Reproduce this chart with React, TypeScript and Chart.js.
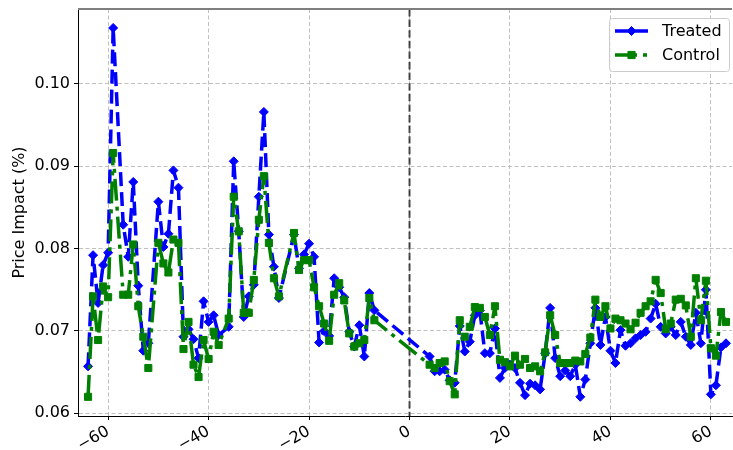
import React, { useEffect, useRef } from 'react';
import { Chart, registerables } from 'chart.js';

Chart.register(...registerables);

const xDays = [
  -64, -63, -62, -61, -60, -59, -57, -56, -55, -54, -53, -52, -50, -49, -48, -47, -46, -45, -44, -43,
  -42, -41, -40, -39, -38, -36, -35, -34, -33, -32, -31, -30, -29, -28, -27, -26, -23, -22, -21, -20,
  -19, -18, -17, -16, -15, -14, -13, -12, -11, -10, -9, -8, -7,
  4, 5, 6, 7, 8, 9, 10, 11, 12, 13, 14, 15, 16, 17, 18, 19, 20, 21, 22, 23, 24, 25, 26, 27, 28, 29,
  30, 31, 32, 33, 34, 35, 36, 37, 38, 39, 40, 41, 42, 43, 44, 45, 46, 47, 48, 49, 50, 51, 52, 53, 54,
  55, 56, 57, 58, 59, 60, 61, 62, 63,
];

const treated = [
  0.0657, 0.0792, 0.0734, 0.0780, 0.0795, 0.1068, 0.0829, 0.0790, 0.0881, 0.0755, 0.0676, 0.0685, 0.0857,
  0.0802, 0.0818, 0.0895, 0.0874, 0.0693, 0.0702, 0.0690, 0.0667, 0.0736, 0.0711, 0.0719, 0.0695, 0.0705,
  0.0906, 0.0821, 0.0717, 0.0742, 0.0756, 0.0863, 0.0966, 0.0817, 0.0778, 0.0740, 0.0817, 0.0776, 0.0793,
  0.0806, 0.0790, 0.0686, 0.0700, 0.0694, 0.0764, 0.0753, 0.0741, 0.0699, 0.0681, 0.0707, 0.0669, 0.0746,
  0.0725,
  0.0669, 0.0651, 0.0651, 0.0653, 0.0640, 0.0637, 0.0706, 0.0675, 0.0687, 0.0719, 0.0725, 0.0673, 0.0673,
  0.0703, 0.0643, 0.0655, 0.0659, 0.0655, 0.0637, 0.0622, 0.0636, 0.0634, 0.0629, 0.0673, 0.0728, 0.0667,
  0.0645, 0.0652, 0.0645, 0.0659, 0.0620, 0.0641, 0.0685, 0.0728, 0.0683, 0.0717, 0.0676, 0.0661, 0.0701,
  0.0682, 0.0685, 0.0691, 0.0695, 0.0699, 0.0715, 0.0733, 0.0705, 0.0697, 0.0705, 0.0695, 0.0711, 0.0693,
  0.0683, 0.0722, 0.0685, 0.0750, 0.0623, 0.0634, 0.0680, 0.0685,
];

const control = [
  0.0620, 0.0742, 0.0689, 0.0754, 0.0741, 0.0916, 0.0744, 0.0744, 0.0805, 0.0730, 0.0693, 0.0655, 0.0807,
  0.0782, 0.0771, 0.0811, 0.0807, 0.0678, 0.0711, 0.0659, 0.0644, 0.0689, 0.0666, 0.0699, 0.0683, 0.0715,
  0.0863, 0.0821, 0.0722, 0.0722, 0.0762, 0.0835, 0.0888, 0.0807, 0.0764, 0.0742, 0.0819, 0.0774, 0.0786,
  0.0786, 0.0753, 0.0730, 0.0709, 0.0688, 0.0744, 0.0758, 0.0737, 0.0697, 0.0681, 0.0685, 0.0689, 0.0740,
  0.0713,
  0.0659, 0.0655, 0.0661, 0.0663, 0.0639, 0.0623, 0.0713, 0.0693, 0.0705, 0.0729, 0.0728, 0.0717, 0.0695,
  0.0730, 0.0665, 0.0662, 0.0657, 0.0670, 0.0659, 0.0666, 0.0655, 0.0657, 0.0651, 0.0674, 0.0719, 0.0695,
  0.0661, 0.0661, 0.0661, 0.0664, 0.0663, 0.0672, 0.0692, 0.0738, 0.0717, 0.0730, 0.0703, 0.0715, 0.0713,
  0.0709, 0.0702, 0.0710, 0.0722, 0.0730, 0.0736, 0.0762, 0.0746, 0.0702, 0.0709, 0.0738, 0.0739, 0.0731,
  0.0693, 0.0764, 0.0713, 0.0761, 0.0679, 0.0670, 0.0723, 0.0711,
];

const xTicks = [-60, -40, -20, 0, 20, 40, 60];
const yTicks = [0.06, 0.07, 0.08, 0.09, 0.1];
const seriesNames = ['Treated', 'Control'];
const yTitle = 'Price Impact (%)';
const eventDay = 0;

const FONT = "'DejaVu Sans', 'Liberation Sans', sans-serif";
const BLUE = '#0000ff';
const GREEN = '#008000';
const DASH_T = [14, 6];
const DASH_C = [22, 6, 4, 6];

function drawMarker(ctx: CanvasRenderingContext2D, kind: string, x: number, y: number, color: string) {
  ctx.save();
  ctx.setLineDash([]);
  ctx.fillStyle = color;
  ctx.strokeStyle = color;
  ctx.lineWidth = 1;
  ctx.beginPath();
  if (kind === 'diamond') {
    const r = 4.5;
    ctx.moveTo(x, y - r);
    ctx.lineTo(x + r, y);
    ctx.lineTo(x, y + r);
    ctx.lineTo(x - r, y);
    ctx.closePath();
  } else {
    const s = 3.6;
    ctx.rect(x - s, y - s, 2 * s, 2 * s);
  }
  ctx.fill();
  ctx.stroke();
  ctx.restore();
}

const overlayPlugin = {
  id: 'overlay',
  beforeDatasetsDraw(chart: any) {
    const { ctx, chartArea, scales } = chart;
    const px = scales.x.getPixelForValue(eventDay);
    ctx.save();
    ctx.strokeStyle = 'rgba(0,0,0,0.7)';
    ctx.lineWidth = 2;
    ctx.setLineDash([7.4, 3.2]);
    ctx.beginPath();
    ctx.moveTo(px, chartArea.top);
    ctx.lineTo(px, chartArea.bottom);
    ctx.stroke();
    ctx.restore();
  },
  afterDraw(chart: any) {
    const { ctx, chartArea } = chart;
    ctx.save();
    ctx.strokeStyle = '#7f7f7f';
    ctx.lineWidth = 2;
    ctx.beginPath();
    ctx.moveTo(chartArea.left, chartArea.top);
    ctx.lineTo(chartArea.right, chartArea.top);
    ctx.stroke();

    const bx = 609.5, by = 18.5, bw = 120, bh = 53, r = 3;
    ctx.beginPath();
    ctx.moveTo(bx + r, by);
    ctx.lineTo(bx + bw - r, by);
    ctx.quadraticCurveTo(bx + bw, by, bx + bw, by + r);
    ctx.lineTo(bx + bw, by + bh - r);
    ctx.quadraticCurveTo(bx + bw, by + bh, bx + bw - r, by + bh);
    ctx.lineTo(bx + r, by + bh);
    ctx.quadraticCurveTo(bx, by + bh, bx, by + bh - r);
    ctx.lineTo(bx, by + r);
    ctx.quadraticCurveTo(bx, by, bx + r, by);
    ctx.closePath();
    ctx.fillStyle = 'rgba(255,255,255,0.8)';
    ctx.fill();
    ctx.strokeStyle = '#cccccc';
    ctx.lineWidth = 1;
    ctx.stroke();

    const rows = [
      { name: seriesNames[0], color: BLUE, dash: DASH_T, marker: 'diamond', y: 31 },
      { name: seriesNames[1], color: GREEN, dash: DASH_C, marker: 'square', y: 55 },
    ];
    rows.forEach((row) => {
      ctx.save();
      ctx.strokeStyle = row.color;
      ctx.lineWidth = 3.5;
      ctx.setLineDash(row.dash);
      ctx.beginPath();
      ctx.moveTo(615, row.y);
      ctx.lineTo(648, row.y);
      ctx.stroke();
      ctx.restore();
      drawMarker(ctx, row.marker, 631.5, row.y, row.color);
      ctx.fillStyle = '#000';
      ctx.font = `16px ${FONT}`;
      ctx.textBaseline = 'middle';
      ctx.textAlign = 'left';
      ctx.fillText(row.name, 662, row.y + 1);
    });
    ctx.restore();
  },
};

export default function App() {
  const canvasRef = useRef<HTMLCanvasElement | null>(null);

  useEffect(() => {
    document.body.style.margin = '0';
    const canvas = canvasRef.current;
    if (!canvas) return;
    const tData = xDays.map((x, i) => ({ x, y: treated[i] }));
    const cData = xDays.map((x, i) => ({ x, y: control[i] }));

    const chart = new Chart(canvas, {
      type: 'line',
      data: {
        datasets: [
          {
            label: seriesNames[0],
            data: tData,
            borderColor: BLUE,
            backgroundColor: BLUE,
            borderWidth: 3.5,
            borderDash: DASH_T,
            borderJoinStyle: 'round',
            pointStyle: 'rectRot',
            pointRadius: 4.5,
            pointBorderWidth: 1,
            pointBackgroundColor: BLUE,
            pointBorderColor: BLUE,
            tension: 0,
            fill: false,
            order: 1,
          },
          {
            label: seriesNames[1],
            data: cData,
            borderColor: GREEN,
            backgroundColor: GREEN,
            borderWidth: 3.5,
            borderDash: DASH_C,
            borderJoinStyle: 'round',
            pointStyle: 'rect',
            pointRadius: 5,
            pointBorderWidth: 1,
            pointBackgroundColor: GREEN,
            pointBorderColor: GREEN,
            tension: 0,
            fill: false,
            order: 0,
          },
        ],
      },
      options: {
        responsive: false,
        animation: false,
        devicePixelRatio: 1,
        layout: { autoPadding: false, padding: { top: 9, right: 1, left: 0, bottom: 0 } },
        plugins: {
          legend: { display: false },
          tooltip: { enabled: false },
          title: { display: false },
        },
        scales: {
          x: {
            type: 'linear',
            min: -66,
            max: 64.2,
            afterBuildTicks: (s: any) => {
              s.ticks = xTicks.map((v) => ({ value: v }));
            },
            afterFit: (s: any) => {
              s.height = 34;
              s.paddingLeft = 0;
              s.paddingRight = 0;
            },
            ticks: {
              font: { family: FONT, size: 16 },
              color: '#000',
              minRotation: 30,
              maxRotation: 30,
              padding: 2,
              callback: (v: any) => (Number(v) < 0 ? '\u2212' + Math.abs(Number(v)) : String(v)),
            },
            grid: {
              color: '#b0b0b0',
              lineWidth: 0.8,
              tickColor: '#000',
              tickLength: 4,
              tickWidth: 1,
              tickBorderDash: [],
            },
            border: { display: true, color: '#000', width: 1, dash: [4, 2.5] },
          },
          y: {
            type: 'linear',
            min: 0.05967,
            max: 0.1091,
            afterBuildTicks: (s: any) => {
              s.ticks = yTicks.map((v) => ({ value: v }));
            },
            afterFit: (s: any) => {
              s.width = 78;
              s.paddingTop = 0;
              s.paddingBottom = 0;
            },
            ticks: {
              font: { family: FONT, size: 16 },
              color: '#000',
              padding: 4,
              callback: (v: any) => Number(v).toFixed(2),
            },
            grid: {
              color: '#b0b0b0',
              lineWidth: 0.8,
              tickColor: '#000',
              tickLength: 4,
              tickWidth: 1,
              tickBorderDash: [],
            },
            border: { display: true, color: '#000', width: 1, dash: [4, 2.5] },
            title: {
              display: true,
              text: yTitle,
              color: '#000',
              font: { family: FONT, size: 16 },
              padding: { top: 10, bottom: 0 },
            },
          },
        },
      },
      plugins: [overlayPlugin],
    } as any);

    return () => {
      chart.destroy();
    };
  }, []);

  return (
    <div style={{ position: 'absolute', left: 0, top: 0, width: 733, height: 450 }}>
      <canvas ref={canvasRef} width={733} height={450} />
    </div>
  );
}
